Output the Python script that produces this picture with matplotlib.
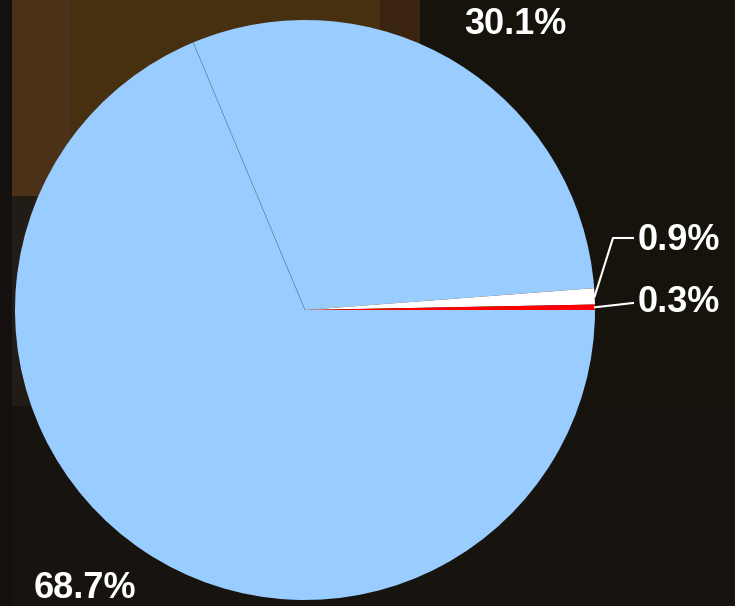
import matplotlib
matplotlib.use("Agg")
import matplotlib.pyplot as plt
from matplotlib.patches import Rectangle
import numpy as np

labels = ["68.7%", "30.1%", "0.9%", "0.3%"]
values = [68.7, 30.1, 0.9, 0.3]
colors = ["#99ccff", "#99ccff", "#ffffff", "#ff0000"]

W, H = 735, 606
fig = plt.figure(figsize=(W / 100, H / 100), dpi=100)
fig.patch.set_facecolor("#16120c")

# background approximating the blurred photo
bg = fig.add_axes([0, 0, 1, 1])
bg.set_xlim(0, W); bg.set_ylim(0, H); bg.axis("off")
bg.add_patch(Rectangle((10, H - 235), 385, 235, color="#46300f", lw=0))
bg.add_patch(Rectangle((10, H - 235), 60, 235, color="#4a3118", lw=0))
bg.add_patch(Rectangle((380, H - 60), 40, 60, color="#3a2410", lw=0))
bg.add_patch(Rectangle((0, 200), 120, 210, color="#221c16", lw=0))
bg.add_patch(Rectangle((0, 0), 735, 200, color="#17130e", lw=0))
bg.add_patch(Rectangle((0, 0), 12, H, color="#141010", lw=0))

ax = fig.add_axes([0, 0, 1, 1])
ax.set_xlim(0, W); ax.set_ylim(0, H)
ax.set_aspect("equal")
ax.axis("off")
cx, cy, r = 305, H - 310, 290
wedges, _ = ax.pie(values, colors=colors, startangle=0, counterclock=False,
                   center=(cx, cy), radius=r,
                   wedgeprops=dict(linewidth=0))
ax.set_xlim(0, W); ax.set_ylim(0, H)

# thin separator between the two blue slices
th = np.deg2rad(wedges[0].theta1)
ax.plot([cx, cx + r * np.cos(th)], [cy, cy + r * np.sin(th)],
        color="#6f8aa3", lw=0.5)

font = dict(family=["Liberation Sans", "DejaVu Sans"], fontsize=26,
            fontweight="bold", color="white")
ax.text(85, H - 588, labels[0], ha="center", va="center", **font)
ax.text(515, H - 25, labels[1], ha="center", va="center", **font)

def edge_point(w):
    t = np.deg2rad((w.theta1 + w.theta2) / 2)
    return cx + r * np.cos(t), cy + r * np.sin(t)

x2, y2 = edge_point(wedges[2])
ax.plot([x2, 613, 633], [y2, H - 238, H - 238], color="white", lw=1.5)
ax.text(638, H - 240, labels[2], ha="left", va="center", **font)
x3, y3 = edge_point(wedges[3])
ax.plot([x3, 633], [y3, H - 303], color="white", lw=1.5)
ax.text(638, H - 303, labels[3], ha="left", va="center", **font)

fig.savefig("out.png", dpi=100, facecolor=fig.get_facecolor())
